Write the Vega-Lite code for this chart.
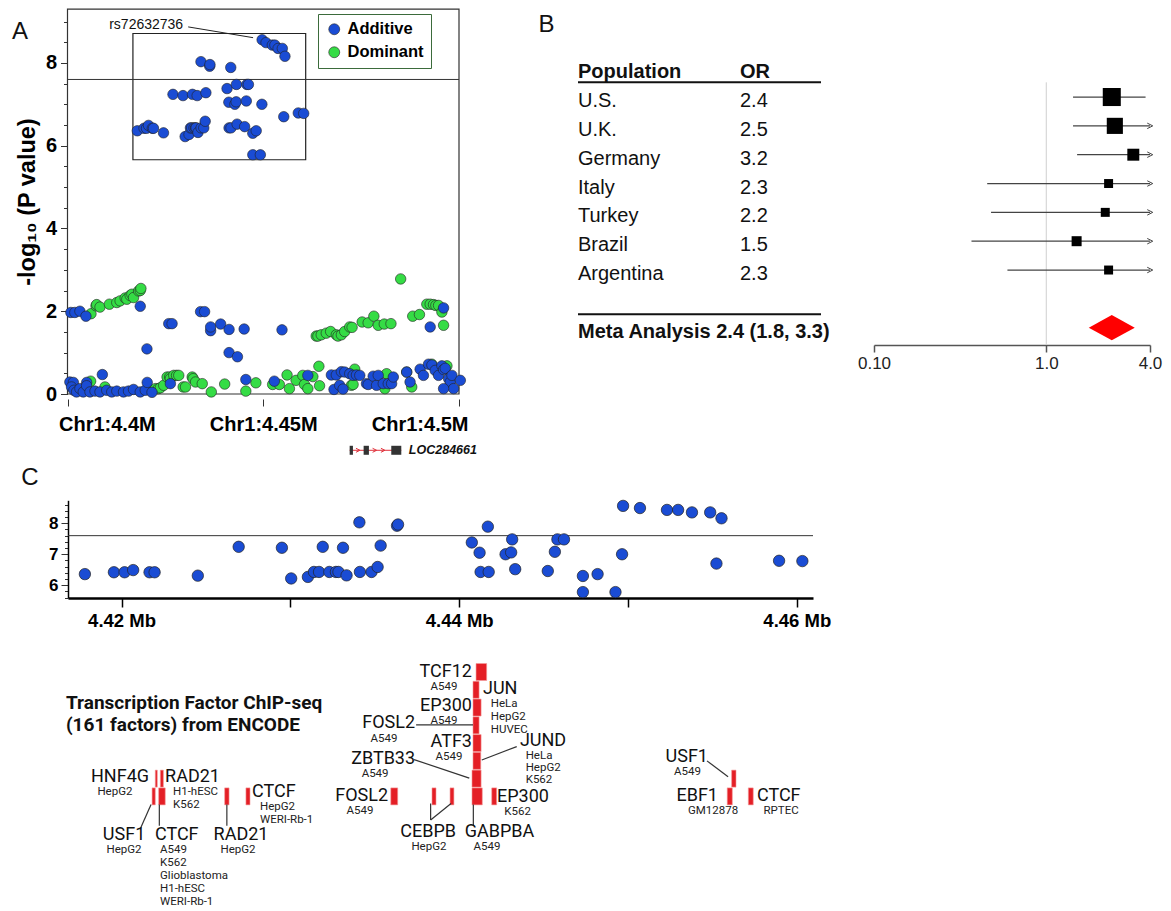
{
"$schema": "https://vega.github.io/schema/vega-lite/v6.json",
"width": 1171, "height": 911, "autosize": "none", "padding": 0, "background": "white",
"config": {"view": {"stroke": null}, "axis": {"grid": false, "labelFont": "Liberation Sans", "titleFont": "Liberation Sans", "labelColor": "#000", "titleColor": "#000", "tickColor": "#222", "domainColor": "#222"}, "text": {"font": "Liberation Sans"}},
"datasets": {
"aPts": [
{"pos":4.406,"logp":1.94,"model":"Dominant"},{"pos":4.40728,"logp":2.13,"model":"Dominant"},{"pos":4.40745,"logp":2.16,"model":"Dominant"},{"pos":4.4083,"logp":2.10,"model":"Dominant"},{"pos":4.4107,"logp":2.17,"model":"Dominant"},{"pos":4.41259,"logp":2.21,"model":"Dominant"},{"pos":4.41344,"logp":2.25,"model":"Dominant"},{"pos":4.41473,"logp":2.32,"model":"Dominant"},{"pos":4.41515,"logp":2.29,"model":"Dominant"},{"pos":4.41601,"logp":2.38,"model":"Dominant"},{"pos":4.41644,"logp":2.41,"model":"Dominant"},{"pos":4.41687,"logp":2.33,"model":"Dominant"},{"pos":4.41815,"logp":2.49,"model":"Dominant"},{"pos":4.41858,"logp":2.50,"model":"Dominant"},{"pos":4.41875,"logp":2.55,"model":"Dominant"},
{"pos":4.46353,"logp":1.40,"model":"Dominant"},{"pos":4.46396,"logp":1.40,"model":"Dominant"},{"pos":4.46481,"logp":1.43,"model":"Dominant"},{"pos":4.4661,"logp":1.47,"model":"Dominant"},{"pos":4.46721,"logp":1.51,"model":"Dominant"},{"pos":4.46866,"logp":1.43,"model":"Dominant"},{"pos":4.46909,"logp":1.40,"model":"Dominant"},{"pos":4.46995,"logp":1.43,"model":"Dominant"},{"pos":4.4708,"logp":1.51,"model":"Dominant"},{"pos":4.47209,"logp":1.62,"model":"Dominant"},{"pos":4.47269,"logp":1.61,"model":"Dominant"},{"pos":4.47526,"logp":1.74,"model":"Dominant"},{"pos":4.4768,"logp":1.72,"model":"Dominant"},{"pos":4.47825,"logp":1.88,"model":"Dominant"},{"pos":4.47937,"logp":1.66,"model":"Dominant"},{"pos":4.48091,"logp":1.69,"model":"Dominant"},{"pos":4.48262,"logp":1.70,"model":"Dominant"},{"pos":4.4851,"logp":2.78,"model":"Dominant"},{"pos":4.48818,"logp":1.88,"model":"Dominant"},{"pos":4.4899,"logp":1.92,"model":"Dominant"},{"pos":4.49178,"logp":2.17,"model":"Dominant"},{"pos":4.49264,"logp":2.17,"model":"Dominant"},{"pos":4.49349,"logp":2.16,"model":"Dominant"},{"pos":4.49409,"logp":2.14,"model":"Dominant"},{"pos":4.49478,"logp":2.14,"model":"Dominant"},{"pos":4.49563,"logp":1.98,"model":"Dominant"},{"pos":4.49606,"logp":1.66,"model":"Dominant"},
{"pos":4.40591,"logp":0.31,"model":"Dominant"},{"pos":4.40957,"logp":0.17,"model":"Dominant"},{"pos":4.42158,"logp":0.09,"model":"Dominant"},{"pos":4.42243,"logp":0.13,"model":"Dominant"},{"pos":4.42316,"logp":0.13,"model":"Dominant"},{"pos":4.42372,"logp":0.15,"model":"Dominant"},{"pos":4.42457,"logp":0.21,"model":"Dominant"},{"pos":4.42543,"logp":0.41,"model":"Dominant"},{"pos":4.4261,"logp":0.41,"model":"Dominant"},{"pos":4.42628,"logp":0.37,"model":"Dominant"},{"pos":4.42714,"logp":0.45,"model":"Dominant"},{"pos":4.42786,"logp":0.45,"model":"Dominant"},{"pos":4.42842,"logp":0.45,"model":"Dominant"},{"pos":4.42954,"logp":0.17,"model":"Dominant"},{"pos":4.43014,"logp":0.17,"model":"Dominant"},{"pos":4.43185,"logp":0.41,"model":"Dominant"},{"pos":4.43209,"logp":0.37,"model":"Dominant"},{"pos":4.43271,"logp":0.29,"model":"Dominant"},{"pos":4.43442,"logp":0.25,"model":"Dominant"},{"pos":4.43673,"logp":0.05,"model":"Dominant"},{"pos":4.44015,"logp":0.24,"model":"Dominant"},{"pos":4.44555,"logp":0.07,"model":"Dominant"},{"pos":4.44812,"logp":0.27,"model":"Dominant"},{"pos":4.4524,"logp":0.23,"model":"Dominant"},{"pos":4.45411,"logp":0.23,"model":"Dominant"},{"pos":4.45608,"logp":0.46,"model":"Dominant"},{"pos":4.45668,"logp":0.13,"model":"Dominant"},{"pos":4.45839,"logp":0.33,"model":"Dominant"},{"pos":4.4601,"logp":0.45,"model":"Dominant"},{"pos":4.46053,"logp":0.23,"model":"Dominant"},{"pos":4.46139,"logp":0.13,"model":"Dominant"},{"pos":4.46267,"logp":0.42,"model":"Dominant"},{"pos":4.46421,"logp":0.67,"model":"Dominant"},{"pos":4.46438,"logp":0.2,"model":"Dominant"},{"pos":4.47252,"logp":0.21,"model":"Dominant"},{"pos":4.47295,"logp":0.23,"model":"Dominant"},{"pos":4.47337,"logp":0.6,"model":"Dominant"},{"pos":4.48108,"logp":0.13,"model":"Dominant"},{"pos":4.48151,"logp":0.49,"model":"Dominant"},{"pos":4.48664,"logp":0.53,"model":"Dominant"},{"pos":4.48793,"logp":0.17,"model":"Dominant"},{"pos":4.49307,"logp":0.72,"model":"Dominant"},{"pos":4.49692,"logp":0.68,"model":"Dominant"},
{"pos":4.40086,"logp":1.97,"model":"Additive"},{"pos":4.40188,"logp":1.97,"model":"Additive"},{"pos":4.40317,"logp":2.0,"model":"Additive"},{"pos":4.40471,"logp":1.88,"model":"Additive"},{"pos":4.41858,"logp":2.12,"model":"Additive"},{"pos":4.42029,"logp":1.09,"model":"Additive"},{"pos":4.42586,"logp":1.70,"model":"Additive"},{"pos":4.42671,"logp":1.70,"model":"Additive"},{"pos":4.43399,"logp":1.99,"model":"Additive"},{"pos":4.43502,"logp":1.99,"model":"Additive"},{"pos":4.43656,"logp":1.53,"model":"Additive"},{"pos":4.43656,"logp":1.62,"model":"Additive"},{"pos":4.43912,"logp":1.69,"model":"Additive"},{"pos":4.44127,"logp":1.56,"model":"Additive"},{"pos":4.44127,"logp":1.0,"model":"Additive"},{"pos":4.44341,"logp":0.90,"model":"Additive"},{"pos":4.44512,"logp":1.57,"model":"Additive"},{"pos":4.45479,"logp":1.55,"model":"Additive"},{"pos":4.49264,"logp":1.62,"model":"Additive"},{"pos":4.49606,"logp":2.08,"model":"Additive"},{"pos":4.4089,"logp":0.47,"model":"Additive"},
{"pos":4.4006,"logp":0.29,"model":"Additive"},{"pos":4.4015,"logp":0.28,"model":"Additive"},{"pos":4.40103,"logp":0.17,"model":"Additive"},{"pos":4.40163,"logp":0.09,"model":"Additive"},{"pos":4.40231,"logp":0.05,"model":"Additive"},{"pos":4.40317,"logp":0.13,"model":"Additive"},{"pos":4.40402,"logp":0.05,"model":"Additive"},{"pos":4.4049,"logp":0.28,"model":"Additive"},{"pos":4.40488,"logp":0.20,"model":"Additive"},{"pos":4.40574,"logp":0.05,"model":"Additive"},{"pos":4.40702,"logp":0.07,"model":"Additive"},{"pos":4.4083,"logp":0.05,"model":"Additive"},{"pos":4.41002,"logp":0.09,"model":"Additive"},{"pos":4.4113,"logp":0.05,"model":"Additive"},{"pos":4.41259,"logp":0.07,"model":"Additive"},{"pos":4.4143,"logp":0.05,"model":"Additive"},{"pos":4.41558,"logp":0.07,"model":"Additive"},{"pos":4.41687,"logp":0.11,"model":"Additive"},{"pos":4.41858,"logp":0.05,"model":"Additive"},{"pos":4.41986,"logp":0.09,"model":"Additive"},{"pos":4.42036,"logp":0.28,"model":"Additive"},{"pos":4.42158,"logp":0.04,"model":"Additive"},
{"pos":4.42628,"logp":0.25,"model":"Additive"},{"pos":4.44555,"logp":0.35,"model":"Additive"},{"pos":4.45283,"logp":0.31,"model":"Additive"},{"pos":4.46139,"logp":0.45,"model":"Additive"},{"pos":4.4674,"logp":0.46,"model":"Additive"},{"pos":4.46807,"logp":0.11,"model":"Additive"},{"pos":4.46866,"logp":0.46,"model":"Additive"},{"pos":4.46952,"logp":0.21,"model":"Additive"},{"pos":4.46995,"logp":0.54,"model":"Additive"},{"pos":4.47038,"logp":0.12,"model":"Additive"},{"pos":4.4708,"logp":0.53,"model":"Additive"},{"pos":4.47209,"logp":0.49,"model":"Additive"},{"pos":4.47295,"logp":0.45,"model":"Additive"},{"pos":4.4738,"logp":0.46,"model":"Additive"},{"pos":4.47466,"logp":0.45,"model":"Additive"},{"pos":4.47637,"logp":0.25,"model":"Additive"},{"pos":4.4768,"logp":0.23,"model":"Additive"},{"pos":4.47808,"logp":0.43,"model":"Additive"},{"pos":4.47894,"logp":0.21,"model":"Additive"},{"pos":4.47937,"logp":0.45,"model":"Additive"},{"pos":4.48065,"logp":0.25,"model":"Additive"},{"pos":4.48193,"logp":0.25,"model":"Additive"},{"pos":4.48279,"logp":0.25,"model":"Additive"},{"pos":4.48322,"logp":0.41,"model":"Additive"},{"pos":4.48664,"logp":0.53,"model":"Additive"},{"pos":4.4875,"logp":0.29,"model":"Additive"},{"pos":4.49007,"logp":0.6,"model":"Additive"},{"pos":4.49092,"logp":0.45,"model":"Additive"},{"pos":4.49221,"logp":0.72,"model":"Additive"},{"pos":4.49307,"logp":0.70,"model":"Additive"},{"pos":4.49392,"logp":0.57,"model":"Additive"},{"pos":4.49478,"logp":0.45,"model":"Additive"},{"pos":4.49563,"logp":0.68,"model":"Additive"},{"pos":4.49606,"logp":0.59,"model":"Additive"},{"pos":4.49649,"logp":0.62,"model":"Additive"},{"pos":4.49735,"logp":0.37,"model":"Additive"},{"pos":4.49777,"logp":0.29,"model":"Additive"},{"pos":4.4982,"logp":0.45,"model":"Additive"},{"pos":4.49863,"logp":0.13,"model":"Additive"},{"pos":4.49606,"logp":0.13,"model":"Additive"},{"pos":4.50034,"logp":0.33,"model":"Additive"}
],
"top": [
{"pos":4.41783,"logp":6.36},{"pos":4.41955,"logp":6.42},{"pos":4.42018,"logp":6.42},{"pos":4.42069,"logp":6.49},{"pos":4.42166,"logp":6.42},{"pos":4.42196,"logp":6.42},{"pos":4.42452,"logp":6.31},{"pos":4.42694,"logp":7.24},{"pos":4.4295,"logp":7.21},{"pos":4.43005,"logp":6.22},{"pos":4.43104,"logp":6.27},{"pos":4.4314,"logp":6.43},{"pos":4.4317,"logp":6.43},{"pos":4.43192,"logp":7.24},{"pos":4.43231,"logp":6.43},{"pos":4.4327,"logp":6.43},{"pos":4.43285,"logp":6.43},{"pos":4.43312,"logp":7.21},{"pos":4.43333,"logp":6.32},{"pos":4.43409,"logp":8.03},{"pos":4.43412,"logp":6.43},{"pos":4.43481,"logp":6.43},{"pos":4.43517,"logp":6.59},{"pos":4.43535,"logp":7.28},{"pos":4.43632,"logp":7.92},{"pos":4.43638,"logp":7.96},{"pos":4.44075,"logp":7.38},{"pos":4.44121,"logp":7.05},{"pos":4.44127,"logp":6.43},{"pos":4.4417,"logp":7.89},{"pos":4.44175,"logp":6.43},{"pos":4.44275,"logp":7.0},{"pos":4.44308,"logp":7.06},{"pos":4.44314,"logp":7.48},{"pos":4.44332,"logp":6.52},{"pos":4.44525,"logp":6.46},{"pos":4.44567,"logp":7.08},{"pos":4.44582,"logp":7.48},{"pos":4.44621,"logp":7.48},{"pos":4.44733,"logp":6.30},{"pos":4.44733,"logp":5.78},{"pos":4.4482,"logp":6.36},{"pos":4.44926,"logp":5.78},{"pos":4.44965,"logp":7.0},{"pos":4.44971,"logp":8.56},{"pos":4.45071,"logp":8.49},{"pos":4.45231,"logp":8.43},{"pos":4.45297,"logp":8.43},{"pos":4.45379,"logp":8.35},{"pos":4.45487,"logp":8.35},{"pos":4.45524,"logp":6.70},{"pos":4.45554,"logp":8.16},{"pos":4.45895,"logp":6.79},{"pos":4.46033,"logp":6.78}
],
"forest": [
{"pop":"U.S.","or":2.4,"lo":1.43,"hi":3.77,"trunc":false,"w":25,"row":1},
{"pop":"U.K.","or":2.5,"lo":1.43,"hi":4.0,"trunc":true,"w":20,"row":2},
{"pop":"Germany","or":3.2,"lo":1.51,"hi":4.0,"trunc":true,"w":11,"row":3},
{"pop":"Italy","or":2.3,"lo":0.454,"hi":4.0,"trunc":true,"w":6.2,"row":4},
{"pop":"Turkey","or":2.2,"lo":0.478,"hi":4.0,"trunc":true,"w":6.2,"row":5},
{"pop":"Brazil","or":1.5,"lo":0.368,"hi":4.0,"trunc":true,"w":7.7,"row":6},
{"pop":"Argentina","or":2.3,"lo":0.595,"hi":4.0,"trunc":true,"w":6.2,"row":7}
],
"meta": [{"label":"Meta Analysis 2.4 (1.8, 3.3)","or":2.4,"lo":1.8,"hi":3.3,"row":9}],
"tf": [
{"f":"USF1","start":4.42181,"end":4.422,"level":0},{"f":"CTCF","start":4.4222,"end":4.42259,"level":0},{"f":"HNF4G","start":4.422,"end":4.42212,"level":1},{"f":"RAD21","start":4.4223,"end":4.42248,"level":1},{"f":"RAD21","start":4.42611,"end":4.42637,"level":0},{"f":"CTCF","start":4.42737,"end":4.42761,"level":0},{"f":"FOSL2","start":4.43595,"end":4.43636,"level":0},{"f":"CEBPB","start":4.43839,"end":4.43863,"level":0},{"f":"CEBPB","start":4.43946,"end":4.43969,"level":0},{"f":"GABPBA","start":4.44076,"end":4.44137,"level":0},{"f":"EP300","start":4.44193,"end":4.44222,"level":0},{"f":"ZBTB33","start":4.44076,"end":4.4413,"level":1},{"f":"JUND","start":4.44082,"end":4.44128,"level":2},{"f":"ATF3","start":4.44082,"end":4.4413,"level":3},{"f":"FOSL2","start":4.44082,"end":4.44118,"level":4},{"f":"EP300","start":4.44082,"end":4.4413,"level":5},{"f":"JUN","start":4.44082,"end":4.44118,"level":6},{"f":"TCF12","start":4.441,"end":4.44163,"level":7},{"f":"USF1","start":4.45614,"end":4.4564,"level":1},{"f":"EBF1","start":4.45588,"end":4.45618,"level":0},{"f":"CTCF","start":4.45713,"end":4.45742,"level":0}
],
"tfnames": [
{"t":"HNF4G","x":4.42163,"v":1.09,"al":"right"},{"t":"RAD21","x":4.42258,"v":1.09,"al":"left"},{"t":"USF1","x":4.42015,"v":-2.17,"al":"center"},{"t":"CTCF","x":4.42198,"v":-2.17,"al":"left"},{"t":"RAD21","x":4.42708,"v":-2.17,"al":"center"},{"t":"CTCF","x":4.42773,"v":0.255,"al":"left"},{"t":"FOSL2","x":4.43579,"v":0.047,"al":"right"},{"t":"TCF12","x":4.44076,"v":7.026,"al":"right"},{"t":"JUN","x":4.44141,"v":6.06,"al":"left"},{"t":"EP300","x":4.44076,"v":5.1,"al":"right"},{"t":"FOSL2","x":4.43739,"v":4.11,"al":"right"},{"t":"ATF3","x":4.44076,"v":3.07,"al":"right"},{"t":"JUND","x":4.4436,"v":3.09,"al":"left"},{"t":"ZBTB33","x":4.43739,"v":2.12,"al":"right"},{"t":"CEBPB","x":4.43816,"v":-1.98,"al":"center"},{"t":"GABPBA","x":4.44239,"v":-1.98,"al":"center"},{"t":"EP300","x":4.44224,"v":-0.03,"al":"left"},{"t":"USF1","x":4.45474,"v":2.23,"al":"right"},{"t":"EBF1","x":4.45533,"v":0.047,"al":"right"},{"t":"CTCF","x":4.45764,"v":0.047,"al":"left"}
],
"tfcells": [
{"t":"HepG2","x":4.41961,"v":0.57,"al":"center"},{"t":"H1-hESC\nK562","x":4.42305,"v":0.57,"al":"left"},{"t":"HepG2","x":4.42015,"v":-2.69,"al":"center"},{"t":"A549\nK562\nGlioblastoma\nH1-hESC\nWERI-Rb-1","x":4.42228,"v":-2.69,"al":"left"},{"t":"HepG2","x":4.4269,"v":-2.69,"al":"center"},{"t":"HepG2\nWERI-Rb-1","x":4.4282,"v":-0.26,"al":"left"},{"t":"A549","x":4.43413,"v":-0.475,"al":"center"},{"t":"A549","x":4.4391,"v":6.505,"al":"center"},{"t":"HeLa\nHepG2\nHUVEC","x":4.44187,"v":5.54,"al":"left"},{"t":"A549","x":4.4391,"v":4.58,"al":"center"},{"t":"A549","x":4.43555,"v":3.59,"al":"center"},{"t":"A549","x":4.4394,"v":2.55,"al":"center"},{"t":"A549","x":4.43502,"v":1.60,"al":"center"},{"t":"HepG2","x":4.43821,"v":-2.50,"al":"center"},{"t":"A549","x":4.44165,"v":-2.50,"al":"center"},{"t":"K562","x":4.44346,"v":-0.56,"al":"center"},{"t":"A549","x":4.45353,"v":1.71,"al":"center"},{"t":"GM12878","x":4.45504,"v":-0.475,"al":"center"},{"t":"RPTEC","x":4.45907,"v":-0.475,"al":"center"}
],
"jundcells": [{"t":"HeLa\nHepG2\nK562","x":4.44394,"v":2.595,"al":"left"}],
"tflines": [
{"x":4.4211,"v":-1.85,"x2":4.42175,"v2":-0.45},{"x":4.42224,"v":-0.45,"x2":4.42224,"v2":-1.65},{"x":4.42624,"v":-0.45,"x2":4.42624,"v2":-1.65},{"x":4.43745,"v":4.03,"x2":4.44082,"v2":4.03},{"x":4.43733,"v":2.07,"x2":4.4406,"v2":1.03},{"x":4.44341,"v":2.8,"x2":4.44134,"v2":2.05},{"x":4.43831,"v":-0.40,"x2":4.43831,"v2":-1.33},{"x":4.43831,"v":-1.33,"x2":4.43952,"v2":-0.40},{"x":4.44084,"v":-0.45,"x2":4.44084,"v2":-1.65},{"x":4.45468,"v":2.0,"x2":4.45593,"v2":1.11}
]
},
"layer": [
{"layer": [
 {"data": {"values": [{"x0":4.4,"x1":4.5,"y0":0,"y1":9.3}]},
  "mark": {"type":"rect","fillOpacity":0,"stroke":"#333","strokeWidth":1.2},
  "encoding": {
   "x": {"field":"x0","type":"quantitative","scale":{"domain":[4.4,4.5],"range":[67.5,459],"nice":false,"zero":false},
     "axis": {"orient":"bottom","offset":-512,"title":null,"values":[4.4,4.45,4.5],"labelExpr":"'Chr1:' + format(datum.value, '.3~f') + 'M'","labelFontSize":20,"labelFontWeight":"bold","labelFlush":true,"labelFlushOffset":9,"tickSize":7,"tickColor":"#333","domain":false,"labelPadding":8}},
   "x2": {"field":"x1"},
   "y": {"field":"y0","type":"quantitative","scale":{"domain":[0,9.3],"range":[399,4.1],"nice":false,"zero":false},
     "axis": {"orient":"left","offset":-67.5,"title":"-log₁₀ (P value)","titleFontSize":23.5,"titleFontWeight":"bold","titlePadding":6,"values":[0,0.5,1,1.5,2,2.5,3,3.5,4,4.5,5,5.5,6,6.5,7,7.5,8,8.5,9],"format":".0f","labelExpr":"datum.value % 2 === 0 ? datum.label : ''","labelOverlap":false,"labelFontSize":20,"labelFontWeight":"bold","tickSize":{"condition":{"test":"datum.value % 2 === 0","value":7},"value":4},"tickColor":"#333","domain":false,"labelPadding":4}},
   "y2": {"field":"y1"}}},
 {"data": {"values": [{"x0":4.41671,"x1":4.46084,"y0":5.66,"y1":8.71}]},
  "mark": {"type":"rect","fillOpacity":0,"stroke":"#222","strokeWidth":1.2},
  "encoding": {"x":{"field":"x0","type":"quantitative"},"x2":{"field":"x1"},"y":{"field":"y0","type":"quantitative"},"y2":{"field":"y1"}}},
 {"data": {"values": [{"x0":4.4,"x1":4.5,"y":7.6}]},
  "mark": {"type":"rule","color":"#333","strokeWidth":1},
  "encoding": {"x":{"field":"x0","type":"quantitative"},"x2":{"field":"x1"},"y":{"field":"y","type":"quantitative"}}},
 {"data": {"name":"aPts"},
  "mark": {"type":"circle","opacity":1,"stroke":"#222","strokeWidth":0.6,"size":110},
  "encoding": {"x":{"field":"pos","type":"quantitative"},"y":{"field":"logp","type":"quantitative"},
   "color":{"field":"model","type":"nominal","scale":{"domain":["Additive","Dominant"],"range":["#1a4cd4","#35dc45"]},
    "legend":{"orient":"none","legendX":318,"legendY":14,"title":null,"strokeColor":"#3b6b3b","fillColor":"#fff","padding":7,"symbolType":"circle","symbolSize":120,"symbolStrokeColor":"#222","symbolStrokeWidth":0.6,"symbolOffset":1,"labelFont":"Liberation Sans","labelFontSize":16.5,"labelFontWeight":"bold","labelColor":"#000","labelOffset":5,"rowPadding":6}}}},
 {"data": {"name":"top"},
  "mark": {"type":"circle","opacity":1,"stroke":"#222","strokeWidth":0.6,"size":110},
  "encoding": {"x":{"field":"pos","type":"quantitative"},"y":{"field":"logp","type":"quantitative"},"color":{"datum":"Additive","type":"nominal"}}},
 {"data": {"values": [{"x":4.43082,"y":8.87,"x2":4.4474,"y2":8.61}]},
  "mark": {"type":"rule","color":"#222","strokeWidth":1},
  "encoding": {"x":{"field":"x","type":"quantitative"},"y":{"field":"y","type":"quantitative"},"x2":{"field":"x2"},"y2":{"field":"y2"}}},
 {"data": {"values": [{"t":"rs72632736","x":4.42954,"y":8.92}]},
  "mark": {"type":"text","align":"right","baseline":"middle","fontSize":14,"color":"#111"},
  "encoding": {"x":{"field":"x","type":"quantitative"},"y":{"field":"y","type":"quantitative"},"text":{"field":"t"}}},
 {"data": {"values": [{"t":"A","x":4.38788,"y":8.74}]},
  "mark": {"type":"text","align":"center","baseline":"middle","fontSize":24,"color":"#111"},
  "encoding": {"x":{"field":"x","type":"quantitative"},"y":{"field":"y","type":"quantitative"},"text":{"field":"t"}}},
 {"data": {"values": [{"s":4.47207,"e":4.48526,"y":-1.36}]},
  "mark": {"type":"rule","color":"#e0303a","strokeWidth":1},
  "encoding": {"x":{"field":"s","type":"quantitative"},"x2":{"field":"e"},"y":{"field":"y","type":"quantitative"}}},
 {"data": {"values": [{"x":4.47419,"y":-1.36},{"x":4.47844,"y":-1.36},{"x":4.48057,"y":-1.36}]},
  "mark": {"type":"point","shape":"M-1,-1L1,0L-1,1","filled":false,"color":"#e0303a","strokeWidth":1,"size":16,"opacity":1},
  "encoding": {"x":{"field":"x","type":"quantitative"},"y":{"field":"y","type":"quantitative"}}},
 {"data": {"values": [{"s":4.47207,"e":4.47291,"y":-1.36},{"s":4.47564,"e":4.47699,"y":-1.36},{"s":4.4827,"e":4.48526,"y":-1.36}]},
  "mark": {"type":"bar","size":9,"color":"#333"},
  "encoding": {"x":{"field":"s","type":"quantitative"},"x2":{"field":"e"},"y":{"field":"y","type":"quantitative"}}},
 {"data": {"values": [{"t":"LOC284661","x":4.48719,"y":-1.36}]},
  "mark": {"type":"text","align":"left","baseline":"middle","fontSize":12.5,"fontWeight":"bold","fontStyle":"italic","color":"#111"},
  "encoding": {"x":{"field":"x","type":"quantitative"},"y":{"field":"y","type":"quantitative"},"text":{"field":"t"}}}
]},
{"layer": [
 {"data": {"values": [{"col":"Population","t":"Population"},{"col":"OR","t":"OR"}]},
  "mark": {"type":"text","align":"left","baseline":"middle","dy":4,"fontSize":20,"fontWeight":"bold","color":"#111"},
  "encoding": {
   "x": {"field":"col","type":"nominal","scale":{"type":"point","domain":["Population","mid","OR","end"],"range":[578,821],"padding":0},"axis":null},
   "y": {"datum":0,"type":"quantitative","scale":{"domain":[0,9.6],"range":[68.2,345],"nice":false,"zero":false},"axis":null},
   "text": {"field":"t"}}},
 {"data": {"name":"forest"},
  "mark": {"type":"text","align":"left","baseline":"middle","dy":4,"fontSize":20,"color":"#111"},
  "encoding": {"x":{"datum":"Population","type":"nominal"},"y":{"field":"row","type":"quantitative"},"text":{"field":"pop"}}},
 {"data": {"name":"forest"},
  "mark": {"type":"text","align":"left","baseline":"middle","dy":4,"fontSize":20,"color":"#111"},
  "encoding": {"x":{"datum":"OR","type":"nominal"},"y":{"field":"row","type":"quantitative"},"text":{"field":"or","format":".1f"}}},
 {"data": {"values": [{"row":0.49},{"row":8.53}]},
  "mark": {"type":"rule","color":"#111","strokeWidth":2},
  "encoding": {"x":{"datum":"Population","type":"nominal"},"x2":{"datum":"end"},"y":{"field":"row","type":"quantitative"}}},
 {"data": {"name":"meta"},
  "mark": {"type":"text","align":"left","baseline":"middle","dy":4,"fontSize":20,"fontWeight":"bold","color":"#111"},
  "encoding": {"x":{"datum":"Population","type":"nominal"},"y":{"field":"row","type":"quantitative"},"text":{"field":"label"}}}
]},
{"layer": [
 {"data": {"values": [{"x":1,"r0":0.49,"r1":9.6}]},
  "mark": {"type":"rule","color":"#cfcfcf","strokeWidth":1},
  "encoding": {
   "x": {"field":"x","type":"quantitative","scale":{"type":"log","domain":[0.1,4],"range":[874,1150],"nice":false},
     "axis": {"orient":"bottom","offset":-566,"title":null,"values":[0.1,1,4],"labelExpr":"datum.value < 0.5 ? '0.10' : format(datum.value, '.1f')","labelFlush":false,"labelFontSize":17,"labelColor":"#222","domainColor":"#555","domainWidth":1.5,"tickColor":"#555","tickWidth":1.5,"tickSize":7,"labelPadding":3}},
   "y": {"field":"r0","type":"quantitative","scale":{"domain":[0,9.6],"range":[68.2,345],"nice":false,"zero":false},"axis":null},
   "y2": {"field":"r1"}}},
 {"data": {"name":"forest"},
  "mark": {"type":"rule","color":"#444","strokeWidth":1.2},
  "encoding": {"x":{"field":"lo","type":"quantitative"},"x2":{"field":"hi"},"y":{"field":"row","type":"quantitative"}}},
 {"data": {"name":"forest"},
  "transform": [{"filter":"datum.trunc"}],
  "mark": {"type":"point","shape":"M-1,-1L1,0L-1,1","filled":false,"color":"#444","strokeWidth":1,"size":30,"opacity":1},
  "encoding": {"x":{"field":"hi","type":"quantitative"},"y":{"field":"row","type":"quantitative"}}},
 {"data": {"name":"forest"},
  "mark": {"type":"point","shape":"square","filled":true,"color":"#000","opacity":1},
  "encoding": {"x":{"field":"or","type":"quantitative"},"y":{"field":"row","type":"quantitative"},
   "size":{"field":"w","type":"quantitative","scale":{"domain":[0,100],"range":[0,1300]},"legend":null}}},
 {"data": {"name":"meta"},
  "mark": {"type":"point","shape":"M-1,0L0,-0.55L1,0L0,0.55Z","filled":true,"color":"#ff0000","size":2116,"opacity":1,"strokeWidth":0},
  "encoding": {"x":{"field":"or","type":"quantitative"},"y":{"field":"row","type":"quantitative"}}},
 {"data": {"values": [{"t":"B","x":0.001254,"row":-1.5}]},
  "mark": {"type":"text","align":"center","baseline":"middle","fontSize":24,"color":"#111"},
  "encoding": {"x":{"field":"x","type":"quantitative"},"y":{"field":"row","type":"quantitative"},"text":{"field":"t"}}}
]},
{"layer": [
 {"data": {"values": [{"x0":4.41683,"x1":4.46096,"y":7.6}]},
  "mark": {"type":"rule","color":"#333","strokeWidth":1},
  "encoding": {
   "x": {"field":"x0","type":"quantitative","scale":{"domain":[4.41683,4.46096],"range":[68,813],"nice":false,"zero":false},
     "axis": {"orient":"bottom","offset":-313,"title":null,"values":[4.42,4.43,4.44,4.45,4.46],"labelExpr":"(abs(datum.value - 4.42) < 1e-6 || abs(datum.value - 4.44) < 1e-6 || abs(datum.value - 4.46) < 1e-6) ? format(datum.value, '.2f') + ' Mb' : ''","labelOverlap":false,"labelFlush":false,"domainColor":"#000","domainWidth":2.5,"tickColor":"#000","tickWidth":1.5,"tickSize":9,"labelFontSize":18.5,"labelFontWeight":"bold","labelPadding":4}},
   "x2": {"field":"x1"},
   "y": {"field":"y","type":"quantitative","scale":{"domain":[5.59,8.74],"range":[598,500.3],"nice":false,"zero":false},
     "axis": {"orient":"left","offset":-68,"title":null,"values":[5.6,5.7,5.8,5.9,6,6.1,6.2,6.3,6.4,6.5,6.6,6.7,6.8,6.9,7,7.1,7.2,7.3,7.4,7.5,7.6,7.7,7.8,7.9,8,8.1,8.2,8.3,8.4,8.5,8.6,8.7],"format":".0f","labelExpr":"datum.value % 1 === 0 ? datum.label : ''","labelOverlap":false,"tickSize":{"condition":{"test":"datum.value % 1 === 0","value":7},"value":3.5},"domainColor":"#000","domainWidth":1.5,"tickColor":"#333","labelFontSize":17,"labelFontWeight":"bold","labelPadding":3}}}},
 {"data": {"name":"top"},
  "mark": {"type":"circle","opacity":1,"color":"#1a4cd4","stroke":"#222","strokeWidth":0.7,"size":130},
  "encoding": {"x":{"field":"pos","type":"quantitative"},"y":{"field":"logp","type":"quantitative"}}},
 {"data": {"values": [{"t":"C","x":4.41458,"y":9.46}]},
  "mark": {"type":"text","align":"center","baseline":"middle","fontSize":24,"color":"#111"},
  "encoding": {"x":{"field":"x","type":"quantitative"},"y":{"field":"y","type":"quantitative"},"text":{"field":"t"}}}
]},
{"layer": [
 {"data": {"name":"tf"},
  "mark": {"type":"bar","size":17,"color":"#e41f26","stroke":"#f39a9a","strokeWidth":0.6},
  "encoding": {
   "x": {"field":"start","type":"quantitative","scale":{"domain":[4.41683,4.46096],"range":[68,813],"nice":false,"zero":false},"axis":null},
   "x2": {"field":"end"},
   "y": {"field":"level","type":"quantitative","scale":{"domain":[0,7],"range":[801.4,667],"nice":false,"zero":false},"axis":null}}},
 {"data": {"name":"tflines"},
  "mark": {"type":"rule","color":"#333","strokeWidth":1.2},
  "encoding": {"x":{"field":"x","type":"quantitative"},"x2":{"field":"x2"},"y":{"field":"v","type":"quantitative"},"y2":{"field":"v2"}}},
 {"data": {"name":"tfnames"},
  "mark": {"type":"text","font":"Roboto","fontSize":18,"baseline":"middle","color":"#111","align":{"expr":"datum.al"}},
  "encoding": {"x":{"field":"x","type":"quantitative"},"y":{"field":"v","type":"quantitative"},"text":{"field":"t"}}},
 {"data": {"name":"tfcells"},
  "mark": {"type":"text","font":"Roboto","fontSize":11.5,"baseline":"top","lineBreak":"\n","lineHeight":13,"color":"#222","align":{"expr":"datum.al"}},
  "encoding": {"x":{"field":"x","type":"quantitative"},"y":{"field":"v","type":"quantitative"},"text":{"field":"t"}}},
 {"data": {"name":"jundcells"},
  "mark": {"type":"text","font":"Roboto","fontSize":11.5,"baseline":"top","lineBreak":"\n","lineHeight":12,"color":"#222","align":"left"},
  "encoding": {"x":{"field":"x","type":"quantitative"},"y":{"field":"v","type":"quantitative"},"text":{"field":"t"}}},
 {"data": {"values": [{"t":"Transcription Factor ChIP-seq","x":4.41671,"v":5.28},{"t":"(161 factors) from ENCODE","x":4.41671,"v":4.03}]},
  "mark": {"type":"text","font":"Roboto","fontSize":19,"fontWeight":"bold","baseline":"middle","align":"left","color":"#111"},
  "encoding": {"x":{"field":"x","type":"quantitative"},"y":{"field":"v","type":"quantitative"},"text":{"field":"t"}}}
]}
],
"resolve": {"scale": {"x":"independent","y":"independent","color":"independent","size":"independent"}, "axis": {"x":"independent","y":"independent"}}
}
